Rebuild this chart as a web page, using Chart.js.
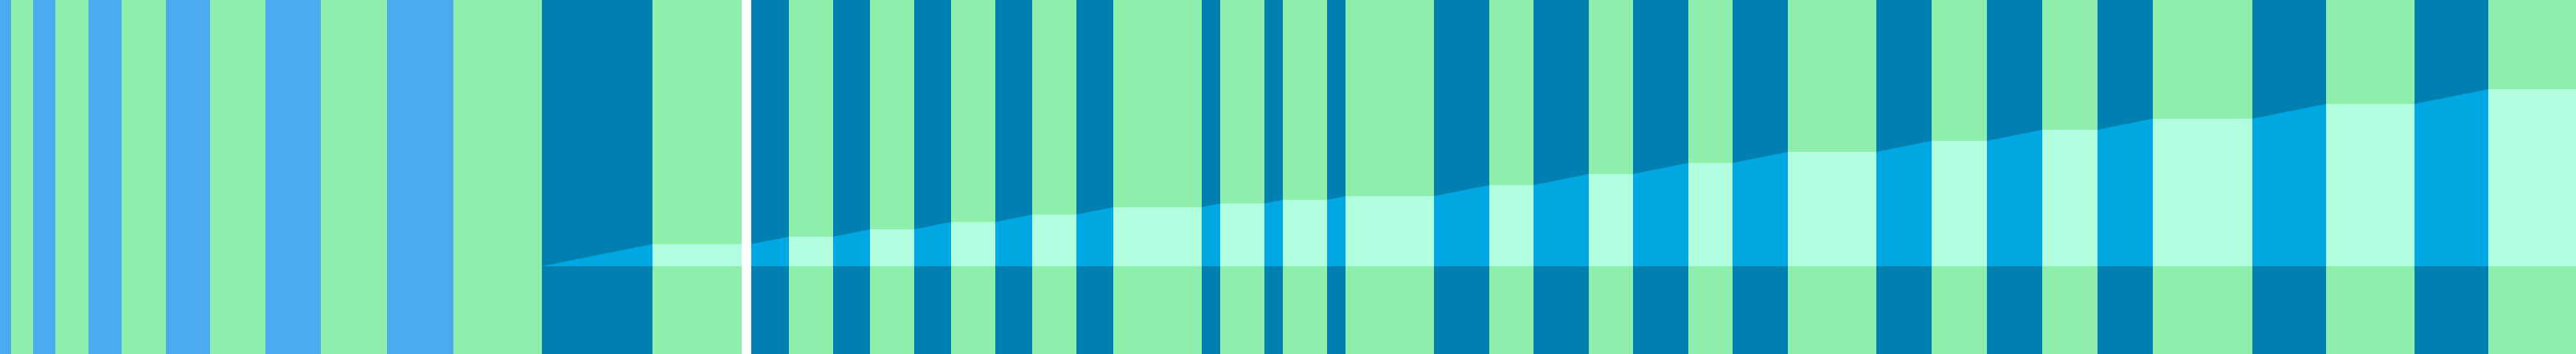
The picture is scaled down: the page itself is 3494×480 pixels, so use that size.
<!DOCTYPE html>
<html>
<head>
<meta charset="utf-8">
<title>Stripes</title>
<script src="https://cdn.jsdelivr.net/npm/chart.js@4.4.1/dist/chart.umd.min.js"></script>
<style>
	html, body { margin: 0; padding: 0; background: #fff; overflow: hidden; }
	canvas { display: block; }
</style>
</head>
<body>
<canvas id="mainChart" width="3494" height="480"></canvas>
<script>
// period boundaries and what each period is
const stripeEdges = [
	0, 15, 45, 75, 120, 165, 225, 285, 360, 435, 525, 615, 735,
	885, 1006, 1019, 1070, 1130, 1180, 1240, 1290, 1350, 1400, 1460, 1510,
	1630, 1655, 1715, 1740, 1800, 1825, 1945, 2020, 2080, 2155, 2215, 2290,
	2350, 2425, 2545, 2620, 2695, 2770, 2845, 2920, 3055, 3155, 3275, 3375, 3494,
];
const stripeKinds = [
	'blue', 'green', 'blue', 'green', 'blue', 'green', 'blue', 'green',
	'blue', 'green', 'blue', 'green',
	'dark', 'green', 'gap', 'dark', 'green', 'dark', 'green', 'dark', 'green',
	'dark', 'green', 'dark', 'green', 'dark', 'green', 'dark', 'green', 'dark',
	'green', 'dark', 'green', 'dark', 'green', 'dark', 'green', 'dark', 'green',
	'dark', 'green', 'dark', 'green', 'dark', 'green', 'dark', 'green', 'dark', 'green',
];

// running total, read at each boundary (null = break)
const totalX = [
	735, 885, 1006, null, 1019, 1070, 1130, 1180, 1240, 1290, 1350, 1400, 1460,
	1510, 1630, 1655, 1715, 1740, 1800, 1825, 1945, 2020, 2080, 2155, 2215,
	2290, 2350, 2425, 2545, 2620, 2695, 2770, 2845, 2920, 3055, 3155, 3275, 3375, 3494,
];
const totalY = [
	0, 150, 150, null, 150, 200, 200, 250, 250, 300, 300, 350, 350,
	400, 400, 425, 425, 450, 450, 475, 475, 550, 550, 625, 625,
	700, 700, 775, 775, 850, 850, 925, 925, 1000, 1000, 1100, 1100, 1200, 1200,
];

const Y_MIN = -595;
const Y_MAX = 1805;

const kindColors = {
	blue: '#4AACEF',
	green: '#8DEFAB',
	dark: '#0080B1',
};
const riseColor = '#00A8E3';
const flatColor = '#B2FFDF';

function stripeData(kind) {
	const out = [];
	for (let i = 0; i < stripeKinds.length; i++) {
		if (stripeKinds[i] !== kind) continue;
		out.push({ x: stripeEdges[i], y: Y_MAX });
		out.push({ x: stripeEdges[i + 1], y: Y_MAX });
		out.push({ x: stripeEdges[i + 1], y: null });
	}
	return out;
}

const totalData = totalX.map((x, i) =>
	x === null ? { x: 1012, y: null } : { x: x, y: totalY[i] }
);

const stripeSets = Object.keys(kindColors).map((kind) => ({
	label: kind,
	data: stripeData(kind),
	backgroundColor: kindColors[kind],
	borderColor: 'transparent',
	borderWidth: 0,
	pointRadius: 0,
	fill: 'start',
	spanGaps: false,
	order: 1,
}));

window.mainChart = new Chart(document.getElementById('mainChart'), {
	type: 'line',
	data: {
		datasets: [
			{
				label: 'total',
				data: totalData,
				backgroundColor: riseColor,
				borderColor: 'transparent',
				borderWidth: 0,
				pointRadius: 0,
				fill: 'origin',
				spanGaps: false,
				order: 0,
				segment: {
					backgroundColor: (ctx) =>
						ctx.p0.parsed.y === ctx.p1.parsed.y ? flatColor : riseColor,
				},
			},
			...stripeSets,
		],
	},
	options: {
		responsive: false,
		animation: false,
		devicePixelRatio: 1,
		layout: { padding: 0 },
		plugins: {
			legend: { display: false },
			tooltip: { enabled: false },
		},
		scales: {
			x: { type: 'linear', min: 0, max: 3494, display: false },
			y: { type: 'linear', min: Y_MIN, max: Y_MAX, display: false },
		},
	},
});
</script>
</body>
</html>
